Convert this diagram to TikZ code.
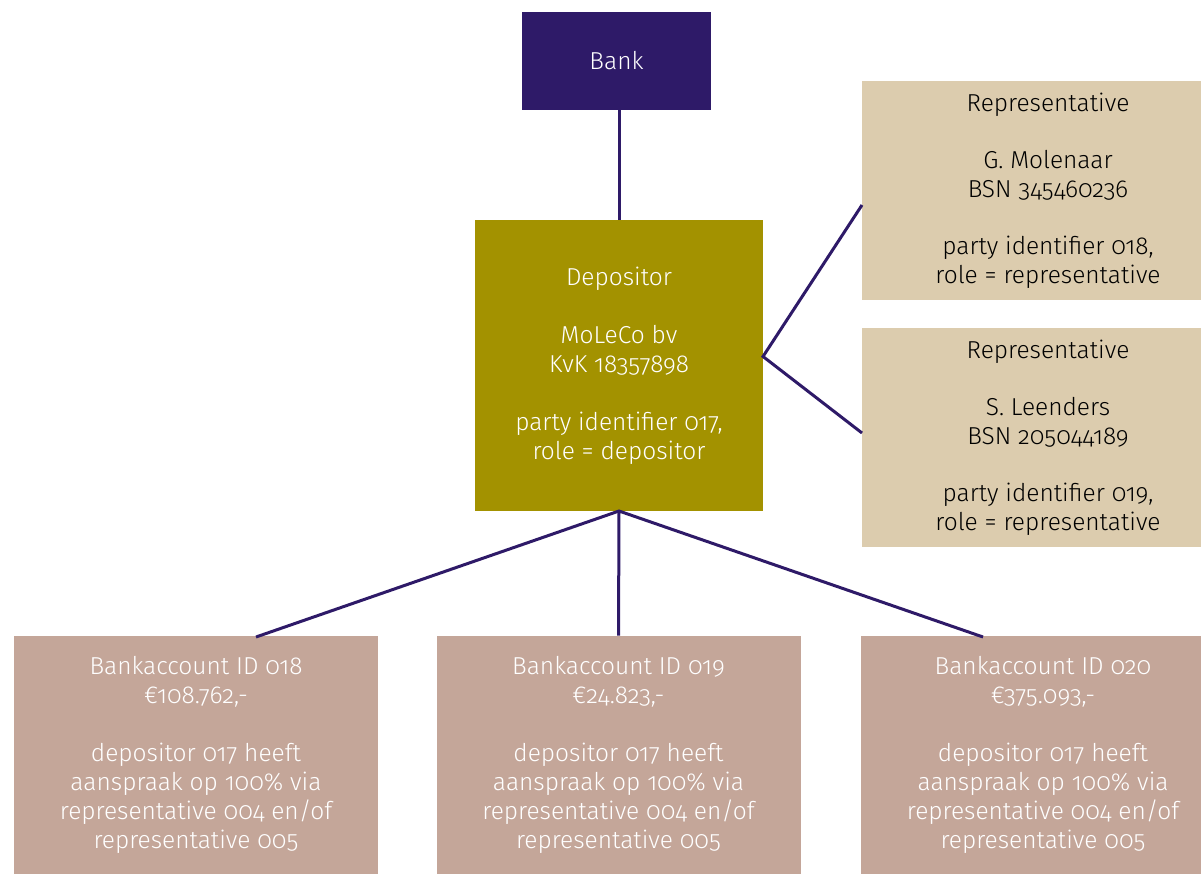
\documentclass[tikz,border=0pt]{standalone}
\usepackage{fontspec}
\setmainfont{Fira Sans Light}[Numbers=OldStyle]
\usetikzlibrary{calc}

\definecolor{bankpurple}{RGB}{46,26,104}
\definecolor{depolive}{RGB}{163,146,0}
\definecolor{repsand}{RGB}{220,204,174}
\definecolor{acctaupe}{RGB}{196,166,153}

\tikzset{
  box/.style={rectangle, inner sep=0pt, outer sep=0pt, align=center,
    font=\fontsize{24.5}{29}\selectfont},
  bankbox/.style={box, fill=bankpurple, text=white, minimum width=189pt, minimum height=98pt},
  depbox/.style={box, fill=depolive, text=white, minimum width=288pt, minimum height=291pt},
  repbox/.style={box, fill=repsand, text=black, minimum width=372pt, minimum height=219pt},
  accbox/.style={box, fill=acctaupe, text=white, minimum width=364pt, minimum height=239pt},
  link/.style={draw=bankpurple, line width=3pt}
}

\begin{document}
\begin{tikzpicture}[x=1pt, y=-1pt]
  \useasboundingbox (0,0) rectangle (1201,873);

  % boxes
  \node[bankbox] (bank) at (616.5,61) {Bank};
  \node[depbox] (dep) at (619,365.5) {Depositor\\[29pt]MoLeCo bv\\KvK 18357898\\[29pt]party identifier 017,\\role = depositor};
  \node[repbox] (rep1) at (1048,190.5) {Representative\\[28pt]G. Molenaar\\BSN 345460236\\[28pt]party identifier 018,\\role = representative};
  \node[repbox] (rep2) at (1048,437.5) {Representative\\[28pt]S. Leenders\\BSN 205044189\\[28pt]party identifier 019,\\role = representative};
  \node[accbox] (acc1) at (196,755) {Bankaccount ID 018\\€108.762,-\\[29pt]depositor 017 heeft\\aanspraak op 100\% via\\representative 004 en/of\\representative 005};
  \node[accbox] (acc2) at (618.5,755) {Bankaccount ID 019\\€24.823,-\\[29pt]depositor 017 heeft\\aanspraak op 100\% via\\representative 004 en/of\\representative 005};
  \node[accbox] (acc3) at (1043,755) {Bankaccount ID 020\\€375.093,-\\[29pt]depositor 017 heeft\\aanspraak op 100\% via\\representative 004 en/of\\representative 005};

  % connector end points
  \coordinate (dephub) at ($(dep.east)+(0,-9)$);
  \coordinate (rep1in) at ($(rep1.west)+(0,14.5)$);
  \coordinate (rep2in) at ($(rep2.west)+(0,-4.5)$);
  \coordinate (acc1in) at ($(acc1.north)+(60,1.5)$);
  \coordinate (acc3in) at ($(acc3.north)+(-60,1.5)$);

  % connectors
  \path[link] (dep.north |- bank.south) -- (dep.north);
  \path[link] (rep1in) -- (dephub) -- (rep2in);
  \path[link] (acc1in) -- (dep.south) -- (acc3in);
  \path[link] (dep.south) -- (acc2.north);
\end{tikzpicture}
\end{document}
